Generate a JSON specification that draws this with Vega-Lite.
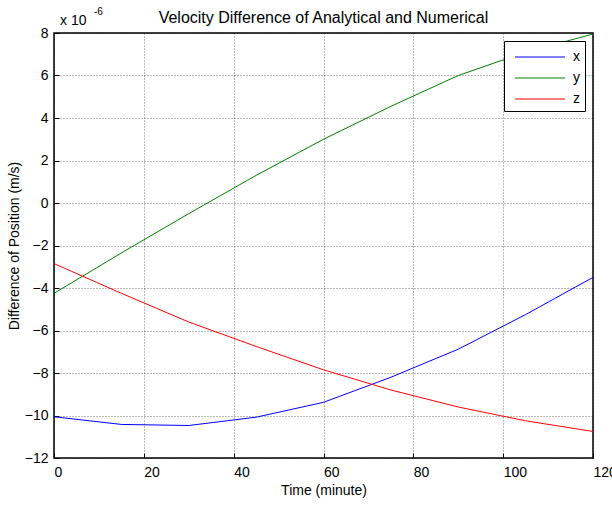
{
  "$schema": "https://vega.github.io/schema/vega-lite/v6.json",
  "width": 539,
  "height": 425,
  "autosize": {"type": "none"},
  "padding": {"left": 54, "top": 33, "right": 19, "bottom": 47},
  "background": "white",
  "config": {
    "font": "Liberation Sans",
    "view": {"stroke": "black", "strokeWidth": 1.5},
    "axis": {
      "labelFont": "Liberation Sans",
      "labelFontSize": 14,
      "labelColor": "black",
      "titleFont": "Liberation Sans",
      "titleFontSize": 14,
      "titleFontWeight": "normal",
      "titleColor": "black",
      "domain": false,
      "grid": true,
      "gridColor": "#000000",
      "gridOpacity": 0.55,
      "gridDash": [1, 2],
      "gridWidth": 1,
      "ticks": true,
      "tickColor": "black",
      "tickSize": -5,
      "tickWidth": 1
    }
  },
  "title": {
    "text": "Velocity Difference of Analytical and Numerical",
    "font": "Liberation Sans",
    "fontSize": 16,
    "fontWeight": "normal",
    "color": "black",
    "offset": 0,
    "dy": 19,
    "anchor": "middle",
    "frame": "group"
  },
  "layer": [
    {
      "data": {
        "values": [
          {"t": 0, "comp": "x", "v": -10.06},
          {"t": 15, "comp": "x", "v": -10.42},
          {"t": 30, "comp": "x", "v": -10.47},
          {"t": 45, "comp": "x", "v": -10.08},
          {"t": 60, "comp": "x", "v": -9.38},
          {"t": 75, "comp": "x", "v": -8.2},
          {"t": 90, "comp": "x", "v": -6.88},
          {"t": 105, "comp": "x", "v": -5.25},
          {"t": 120, "comp": "x", "v": -3.5},
          {"t": 0, "comp": "y", "v": -4.25},
          {"t": 15, "comp": "y", "v": -2.35},
          {"t": 30, "comp": "y", "v": -0.5},
          {"t": 45, "comp": "y", "v": 1.3},
          {"t": 60, "comp": "y", "v": 3.0},
          {"t": 75, "comp": "y", "v": 4.55},
          {"t": 90, "comp": "y", "v": 6.0},
          {"t": 105, "comp": "y", "v": 7.1},
          {"t": 120, "comp": "y", "v": 7.95},
          {"t": 0, "comp": "z", "v": -2.85},
          {"t": 15, "comp": "z", "v": -4.25},
          {"t": 30, "comp": "z", "v": -5.6},
          {"t": 45, "comp": "z", "v": -6.75},
          {"t": 60, "comp": "z", "v": -7.85},
          {"t": 75, "comp": "z", "v": -8.8},
          {"t": 90, "comp": "z", "v": -9.6},
          {"t": 105, "comp": "z", "v": -10.25},
          {"t": 120, "comp": "z", "v": -10.75}
        ]
      },
      "mark": {"type": "line", "strokeWidth": 1, "clip": true},
      "encoding": {
        "x": {
          "field": "t", "type": "quantitative",
          "scale": {"domain": [0, 120], "nice": false},
          "axis": {"values": [0, 20, 40, 60, 80, 100, 120], "title": "Time (minute)", "labelPadding": 12, "titlePadding": 4, "labelAlign": "left", "labelFlush": false, "labelBound": false}
        },
        "y": {
          "field": "v", "type": "quantitative",
          "scale": {"domain": [-12, 8], "nice": false, "zero": false},
          "axis": {"values": [-12, -10, -8, -6, -4, -2, 0, 2, 4, 6, 8], "title": "Difference of Position (m/s)", "labelPadding": 11, "titlePadding": 3}
        },
        "stroke": {
          "field": "comp", "type": "nominal",
          "scale": {"domain": ["x", "y", "z"], "range": ["#0000ff", "#008000", "#ff0000"]},
          "legend": {
            "title": null,
            "orient": "top-right",
            "offset": 8,
            "strokeColor": "black",
            "fillColor": "white",
            "padding": 5,
            "symbolType": "M-0.5,0H4.5",
            "symbolSize": 400,
            "symbolStrokeWidth": 1.2,
            "labelOffset": 42,
            "labelFontSize": 14,
            "labelColor": "black",
            "labelFont": "Liberation Sans",
            "rowPadding": 3
          }
        }
      }
    },
    {
      "data": {"values": [{"label": "x 10", "exp": "-6"}]},
      "mark": {"type": "text", "align": "left", "baseline": "alphabetic", "fontSize": 14, "font": "Liberation Sans", "dx": 6, "dy": -8, "fill": "black"},
      "encoding": {
        "x": {"datum": 0, "type": "quantitative"},
        "y": {"datum": 8, "type": "quantitative"},
        "text": {"field": "label"}
      }
    },
    {
      "data": {"values": [{"label": "x 10", "exp": "-6"}]},
      "mark": {"type": "text", "align": "left", "baseline": "alphabetic", "fontSize": 10, "font": "Liberation Sans", "dx": 40, "dy": -18, "fill": "black"},
      "encoding": {
        "x": {"datum": 0, "type": "quantitative"},
        "y": {"datum": 8, "type": "quantitative"},
        "text": {"field": "exp"}
      }
    }
  ]
}
